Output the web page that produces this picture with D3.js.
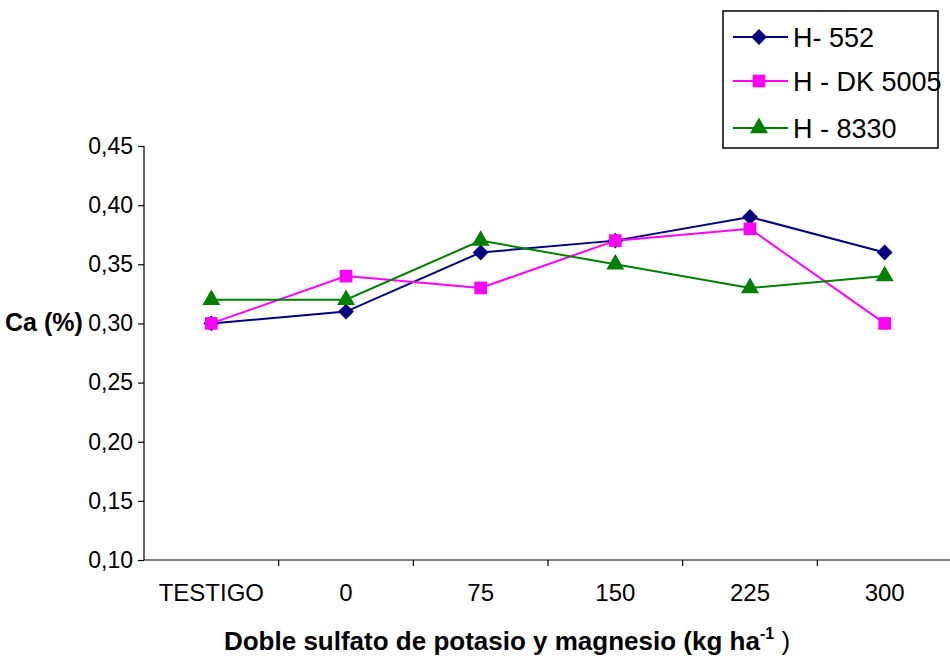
<!DOCTYPE html>
<html><head><meta charset="utf-8">
<script src="https://cdn.jsdelivr.net/npm/d3@7"></script>
<style>body{margin:0;background:#fff}svg{display:block}text{font-family:"Liberation Sans",Arial,sans-serif}</style>
</head><body>
<svg id="c" width="950" height="660"></svg>
<script>
const categories = ["TESTIGO","0","75","150","225","300"];
const h552 = [0.30,0.31,0.36,0.37,0.39,0.36];
const hdk5005 = [0.30,0.34,0.33,0.37,0.38,0.30];
const h8330 = [0.32,0.32,0.37,0.35,0.33,0.34];
const yTicks = [0.10,0.15,0.20,0.25,0.30,0.35,0.40,0.45];
const seriesNames = ["H- 552","H - DK 5005","H - 8330"];

const series = [
  {name:seriesNames[0], values:h552, color:"#000080", sym:d3.symbolDiamond2 || d3.symbolDiamond, size:160},
  {name:seriesNames[1], values:hdk5005, color:"#FF00FF", sym:d3.symbolSquare, size:160},
  {name:seriesNames[2], values:h8330, color:"#008000", sym:d3.symbolTriangle, size:140}
];

const svg = d3.select("#c");
const x = d3.scaleBand().domain(categories).range([144,952]);
const y = d3.scaleLinear().domain([0.10,0.45]).range([560,146]);

// y axis
const ya = svg.append("g").attr("transform","translate(144,0)")
  .call(d3.axisLeft(y).tickValues(yTicks).tickSize(6).tickPadding(5)
    .tickFormat(d=>d3.format(".2f")(d).replace(".",",")));
ya.select(".domain").attr("stroke","#000").attr("stroke-width",1.2).attr("d","M0,146V560");
ya.selectAll(".tick line").attr("stroke","#000").attr("stroke-width",1.2);
ya.selectAll(".tick text").attr("font-size","23px").attr("fill","#000").attr("font-family",'"Liberation Sans",Arial,sans-serif');

// x axis
const xa = svg.append("g").attr("transform","translate(0,560)")
  .call(d3.axisBottom(x).tickSize(0).tickPadding(24));
xa.select(".domain").attr("stroke","#000").attr("stroke-width",1.2).attr("d","M144,0H950");
xa.selectAll(".tick text").attr("font-size","24px").attr("fill","#000").attr("font-family",'"Liberation Sans",Arial,sans-serif');
// boundary ticks
const bounds = categories.slice(1).map(c=>x(c));
svg.append("g").selectAll("line").data(bounds).join("line")
  .attr("x1",d=>d).attr("x2",d=>d).attr("y1",560).attr("y2",566)
  .attr("stroke","#000").attr("stroke-width",1.2);

const cx = c => x(c)+x.bandwidth()/2;
const line = d3.line().x((d,i)=>cx(categories[i])).y(d=>y(d));

series.forEach(s=>{
  svg.append("path").attr("d",line(s.values)).attr("fill","none").attr("stroke",s.color).attr("stroke-width",2);
});
series.forEach(s=>{
  svg.append("g").selectAll("path").data(s.values).join("path")
    .attr("d",d3.symbol().type(s.sym).size(s.size))
    .attr("transform",(d,i)=>`translate(${cx(categories[i])},${y(d)})`)
    .attr("fill",s.color);
});

// axis titles
svg.append("text").attr("x",5).attr("y",331).attr("font-size","25px").attr("font-weight","bold").text("Ca (%)");
const t = svg.append("text").attr("x",507).attr("y",650).attr("text-anchor","middle").attr("font-size","26px").attr("font-weight","bold");
t.append("tspan").text("Doble sulfato de potasio y magnesio (kg ha");
t.append("tspan").attr("dy",-11).attr("font-size","16px").text("-1");
t.append("tspan").attr("dy",11).attr("font-weight","normal").text(" )");

// legend
const lg = svg.append("g");
lg.append("rect").attr("x",723).attr("y",11).attr("width",215).attr("height",137).attr("fill","#fff").attr("stroke","#000").attr("stroke-width",1.5);
const ly = [37,81,128];
series.forEach((s,i)=>{
  lg.append("line").attr("x1",733).attr("x2",788).attr("y1",ly[i]).attr("y2",ly[i]).attr("stroke",s.color).attr("stroke-width",2);
  lg.append("path").attr("d",d3.symbol().type(s.sym).size(s.size)).attr("transform",`translate(759,${ly[i]})`).attr("fill",s.color);
  lg.append("text").attr("x",793).attr("y",ly[i]+10).attr("font-size","27px").text(s.name);
});
</script>
</body></html>
